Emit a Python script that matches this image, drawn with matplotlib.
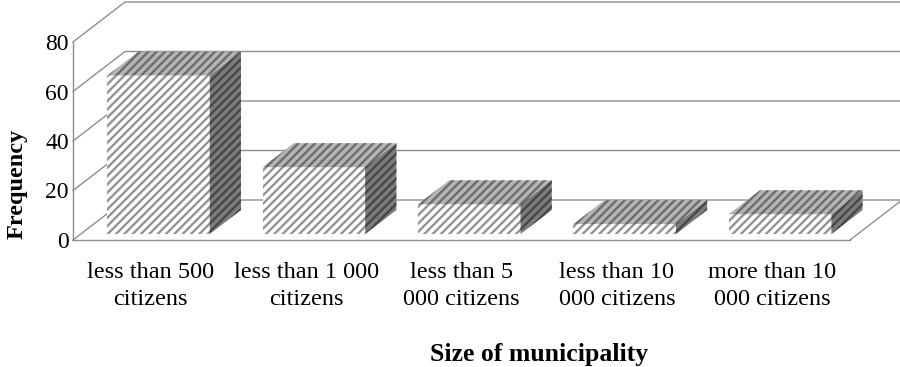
import matplotlib
matplotlib.use("Agg")
import matplotlib.pyplot as plt
from matplotlib.patches import Polygon

# ---- data ----
categories = ["less than 500\ncitizens", "less than 1 000\ncitizens",
              "less than 5\n000 citizens", "less than 10\n000 citizens",
              "more than 10\n000 citizens"]
frequency = [64, 27, 12, 4, 8]
yticks = [0, 20, 40, 60, 80]
xlabel = "Size of municipality"
ylabel = "Frequency"

plt.rcParams['font.family'] = ['Liberation Serif', 'DejaVu Serif']
plt.rcParams['hatch.linewidth'] = 1.7

W, H = 900, 367
fig = plt.figure(figsize=(W / 100, H / 100), dpi=100)
ax = fig.add_axes([73 / W, 1 - 240 / H, (850 - 73) / W, (240 - 42) / H])
ax.set_facecolor('none')
ax.set_xlim(-0.5, len(categories) - 0.5)
ax.set_ylim(yticks[0], yticks[-1])

# oblique depth offset (in data units) for the back wall
DX = 52 / (777 / 5)
DY = 40 / (198 / 80)
D0, D1 = 0.15, 0.75   # bar depth extent
BW = 0.66             # bar width

def P(x, y, d):
    return (x + d * DX, y + d * DY)

grid = '#8e8e8e'
xl, xr = ax.get_xlim()
# back wall gridlines + left wall diagonals
for t in yticks:
    a = P(xl, t, 0); b = P(xl, t, 1); c = P(xr, t, 1)
    ax.plot([a[0], b[0], c[0]], [a[1], b[1], c[1]], color=grid, lw=1.0,
            clip_on=False, zorder=1)
# floor right edge
a = P(xr, 0, 0); b = P(xr, 0, 1)
ax.plot([a[0], b[0]], [a[1], b[1]], color=grid, lw=1.0, clip_on=False, zorder=1)

styles = {
    'front': ('#ffffff', '#939393'),
    'top': ('#b4b4b4', '#6c6c6c'),
    'side': ('#7c7c7c', '#474747'),
}
for i, v in enumerate(frequency):
    x0, x1 = i - BW / 2, i + BW / 2
    faces = {
        'front': [P(x0, 0, D0), P(x1, 0, D0), P(x1, v, D0), P(x0, v, D0)],
        'top': [P(x0, v, D0), P(x1, v, D0), P(x1, v, D1), P(x0, v, D1)],
        'side': [P(x1, 0, D0), P(x1, 0, D1), P(x1, v, D1), P(x1, v, D0)],
    }
    for name, pts in faces.items():
        bg, st = styles[name]
        ax.add_patch(Polygon(pts, closed=True, facecolor=bg, edgecolor='none',
                             lw=0, clip_on=False, zorder=3 + i))
        ax.add_patch(Polygon(pts, closed=True, facecolor='none', edgecolor=st,
                             hatch='////', lw=0, clip_on=False, zorder=3 + i))

for s in ['top', 'right']:
    ax.spines[s].set_visible(False)
for s in ['left', 'bottom']:
    ax.spines[s].set_color(grid)
    ax.spines[s].set_linewidth(1.0)

ax.set_yticks(yticks)
ax.tick_params(axis='y', length=0, pad=3, labelsize=17)
ax.set_xticks(range(len(categories)), categories)
ax.tick_params(axis='x', length=0, pad=16, labelsize=17.5)
for lbl in ax.get_xticklabels():
    lbl.set_linespacing(1.35)

ax.set_xlabel(xlabel, fontsize=18.5, fontweight='bold')
ax.xaxis.set_label_coords((539 - 73) / 777, (240 - 355) / 198)
ax.xaxis.label.set_va('center')
ax.set_ylabel(ylabel, fontsize=17.5, fontweight='bold')
ax.yaxis.set_label_coords((17 - 73) / 777, (240 - 184) / 198)
ax.yaxis.label.set_va('center')

fig.savefig('out.png', dpi=100)
